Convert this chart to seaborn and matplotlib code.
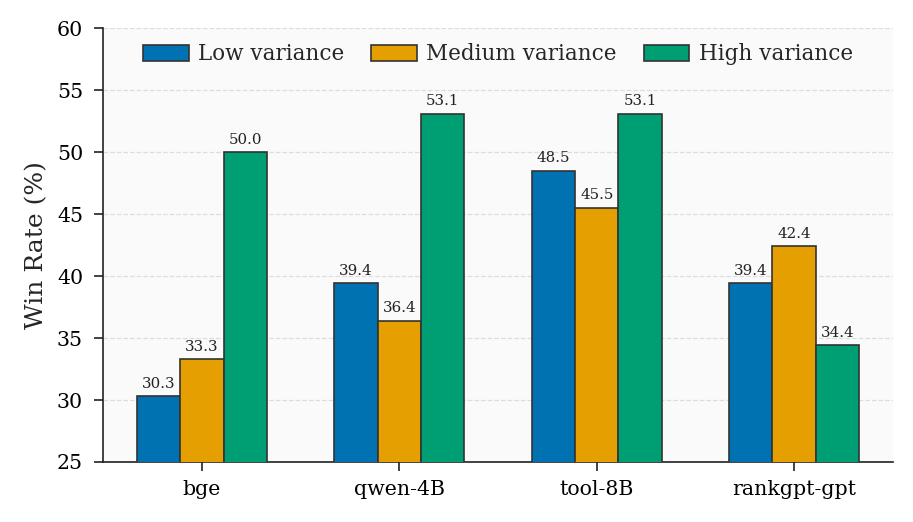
import matplotlib
matplotlib.use("Agg")
import matplotlib.pyplot as plt
import seaborn as sns
import pandas as pd

models = ["bge", "qwen-4B", "tool-8B", "rankgpt-gpt"]
series = ["Low variance", "Medium variance", "High variance"]
low = [30.3, 39.4, 48.5, 39.4]
medium = [33.3, 36.4, 45.5, 42.4]
high = [50.0, 53.1, 53.1, 34.4]
colors = ["#0072B2", "#E69F00", "#009E73"]

rows = []
for s, vals in zip(series, [low, medium, high]):
    for m, v in zip(models, vals):
        rows.append({"Model": m, "Variance": s, "Win": v})
df = pd.DataFrame(rows)

sns.set_style("ticks")
plt.rcParams['font.family'] = ['DejaVu Serif']
plt.rcParams['xtick.labelsize'] = 14.8
plt.rcParams['ytick.labelsize'] = 14.8
plt.rcParams['xtick.major.pad'] = 6.5
plt.rcParams['ytick.major.pad'] = 8
plt.rcParams['xtick.major.size'] = 6.5
plt.rcParams['ytick.major.size'] = 6.5
plt.rcParams['xtick.major.width'] = 1.2
plt.rcParams['ytick.major.width'] = 1.2
plt.rcParams['xtick.color'] = "#222222"
plt.rcParams['ytick.color'] = "#222222"
plt.rcParams['xtick.labelcolor'] = "black"
plt.rcParams['ytick.labelcolor'] = "black"

fig, ax = plt.subplots(figsize=(9.13, 5.22), dpi=100)
ax.set_facecolor("#fafafa")
sns.barplot(data=df, x="Model", y="Win", hue="Variance", order=models,
            hue_order=series, palette=colors, width=0.66, edgecolor="#333333",
            linewidth=1.2, saturation=1, ax=ax, zorder=3)

for cont in ax.containers:
    ax.bar_label(cont, fmt="%.1f", padding=4, fontsize=10.8, color="#222222")

ax.set_ylim(25, 60)
ax.set_xlim(-0.5, 3.5)
ax.set_yticks(range(25, 61, 5))
ax.yaxis.grid(True, linestyle="--", color="#dddddd", linewidth=0.9, zorder=0)
ax.set_axisbelow(True)
ax.set_xlabel("")
ax.set_ylabel("Win Rate (%)", fontsize=18, labelpad=6)
for sp in ["top", "right"]:
    ax.spines[sp].set_visible(False)
for sp in ["left", "bottom"]:
    ax.spines[sp].set_linewidth(1.2)
    ax.spines[sp].set_color("#222222")

leg = ax.legend(loc="upper center", ncol=3, frameon=False, fontsize=15.5,
                bbox_to_anchor=(0.5, 1.01), handlelength=2.1, handleheight=0.75,
                handletextpad=0.45, columnspacing=1.25)

fig.subplots_adjust(left=0.113, right=0.978, top=0.946, bottom=0.115)
fig.savefig("out.png", dpi=100)
